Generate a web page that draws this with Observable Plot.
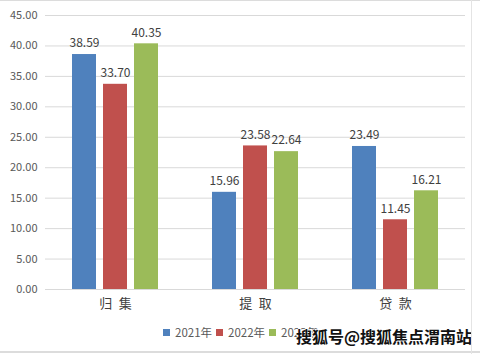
<!DOCTYPE html>
<html><head><meta charset="utf-8">
<script src="https://cdn.jsdelivr.net/npm/d3@7"></script>
<script src="https://cdn.jsdelivr.net/npm/@observablehq/plot@0.6"></script>
<style>
body{margin:0;background:#fff;}
#wrap{position:relative;width:480px;height:354px;overflow:hidden;font-family:"Noto Sans CJK SC","Noto Sans",sans-serif;background:#fff;}
#wrap svg{position:absolute;left:0;top:0;}
#legend{position:absolute;left:163px;top:324px;display:flex;align-items:center;font-size:11.5px;color:#595959;white-space:nowrap;}
#legend .it{display:flex;align-items:center;margin-right:4px;}
#legend .sw{width:7px;height:7px;margin-right:5px;}
#wm{position:absolute;left:296px;top:324px;font-size:16px;font-weight:bold;color:#111;white-space:nowrap;
 text-shadow:1px 0 #fff,-1px 0 #fff,0 1px #fff,0 -1px #fff;}
#bt{position:absolute;left:0;top:0;width:480px;height:1px;background:#dcdcdc;}
#bb{position:absolute;left:0;top:351px;width:480px;height:2px;background:#dcdcdc;}
#br{position:absolute;left:471px;top:0;width:1px;height:354px;background:#e4e4e4;}
</style></head><body><div id="wrap"></div>
<script>
const categories = ["归 集", "提 取", "贷 款"];
const years = ["2021年", "2022年", "2023年"];
const v2021 = [38.59, 15.96, 23.49];
const v2022 = [33.70, 23.58, 11.45];
const v2023 = [40.35, 22.64, 16.21];
const colors = ["#4F81BD", "#C0504D", "#9BBB59"];
const yTicks = [0, 5, 10, 15, 20, 25, 30, 35, 40, 45];
const watermark = "搜狐号@搜狐焦点渭南站";

const series = [v2021, v2022, v2023];
const data = categories.flatMap((c, i) => series.map((s, j) => ({category: c, year: years[j], value: s[i]})));

const chart = Plot.plot({
  width: 480, height: 354,
  marginLeft: 45, marginRight: 15, marginTop: 15, marginBottom: 65,
  style: {fontFamily: '"Noto Sans CJK SC","Noto Sans",sans-serif', fontSize: "11px", color: "#595959", background: "transparent"},
  fx: {domain: categories, padding: 0, label: null, axis: null},
  x: {domain: years, paddingInner: 0.226, paddingOuter: 0.871, axis: null},
  y: {domain: [0, 45], axis: null},
  color: {domain: years, range: colors},
  marks: [
    Plot.ruleY(yTicks, {stroke: "#d9d9d9", strokeWidth: 1}),
    Plot.axisY(yTicks, {tickSize: 0, tickPadding: 8, tickFormat: d3.format(".2f"), label: null, fill: "#595959", fontSize: 11}),
    Plot.axisFx({anchor: "bottom", tickSize: 0, tickPadding: 9, label: null, fontSize: 13, fill: "#404040",
      tickFormat: d => d.replace(" ", "\u2002")}),
    Plot.barY(data, {fx: "category", x: "year", y: "value", fill: "year"}),
    Plot.text(data, {fx: "category", x: "year", y: "value", text: d => d.value.toFixed(2), dy: -11, fill: "#404040", fontSize: 12})
  ]
});
const wrap = document.getElementById("wrap");
wrap.appendChild(chart);

const legend = document.createElement("div");
legend.id = "legend";
years.forEach((y, i) => {
  const it = document.createElement("div");
  it.className = "it";
  const sw = document.createElement("div");
  sw.className = "sw";
  sw.style.background = colors[i];
  const t = document.createElement("span");
  t.textContent = y;
  it.appendChild(sw); it.appendChild(t);
  legend.appendChild(it);
});
wrap.appendChild(legend);

const wm = document.createElement("div");
wm.id = "wm";
wm.textContent = watermark;
wrap.appendChild(wm);
["bt", "bb", "br"].forEach(id => { const d = document.createElement("div"); d.id = id; wrap.appendChild(d); });
</script>
</body></html>
